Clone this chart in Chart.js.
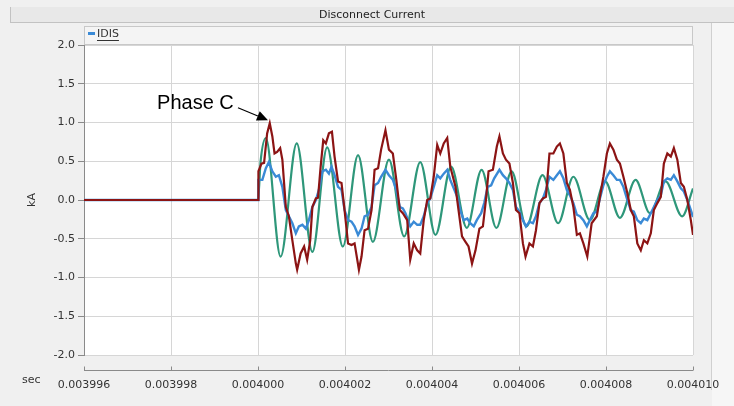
<!DOCTYPE html>
<html><head><meta charset="utf-8">
<script src="https://cdn.jsdelivr.net/npm/chart.js@4/dist/chart.umd.min.js"></script>
<style>html,body{margin:0;padding:0;background:#f0f0f0;overflow:hidden}</style>
</head><body>
<canvas id="c" width="734" height="406"></canvas>
<script>
const chartTitle = 'Disconnect Current';
const legendLabel = 'IDIS';
const xAxisLabel = 'sec';
const yAxisLabel = 'kA';
const annotationText = 'Phase C';
// time axis in microseconds (tick labels shown in seconds)
const xMin = 3996, xMax = 4010, xStep = 2;
const yMin = -2, yMax = 2, yStep = 0.5;

// Phase C (dark red)
const redTime = [3996, 4000, 4000.01, 4000.08, 4000.14, 4000.21, 4000.27, 4000.33, 4000.38, 4000.44,
  4000.51, 4000.56, 4000.64, 4000.71, 4000.79, 4000.87, 4000.90, 4000.98, 4001.06, 4001.13,
  4001.20, 4001.25, 4001.33, 4001.38, 4001.44, 4001.50, 4001.56, 4001.63, 4001.70, 4001.76,
  4001.84, 4001.92, 4001.99, 4002.07, 4002.15, 4002.22, 4002.32, 4002.38, 4002.45, 4002.53,
  4002.61, 4002.68, 4002.76, 4002.83, 4002.93, 4003.01, 4003.10, 4003.18, 4003.26, 4003.33,
  4003.43, 4003.50, 4003.58, 4003.66, 4003.73, 4003.81, 4003.89, 4003.96, 4004.04, 4004.12,
  4004.19, 4004.27, 4004.35, 4004.42, 4004.54, 4004.61, 4004.69, 4004.77, 4004.84, 4004.92,
  4005.00, 4005.09, 4005.17, 4005.24, 4005.30, 4005.40, 4005.49, 4005.55, 4005.63, 4005.70,
  4005.78, 4005.86, 4005.93, 4006.01, 4006.09, 4006.15, 4006.24, 4006.32, 4006.39, 4006.47,
  4006.55, 4006.62, 4006.70, 4006.79, 4006.87, 4006.94, 4007.02, 4007.10, 4007.17, 4007.25,
  4007.33, 4007.40, 4007.48, 4007.57, 4007.67, 4007.79, 4007.86, 4007.94, 4008.02, 4008.09,
  4008.17, 4008.25, 4008.32, 4008.40, 4008.49, 4008.57, 4008.64, 4008.72, 4008.80, 4008.87,
  4008.95, 4009.03, 4009.10, 4009.18, 4009.26, 4009.33, 4009.41, 4009.49, 4009.56, 4009.64,
  4009.72, 4009.79, 4009.87, 4009.95, 4010.00];
const redValue = [0, 0, 0.37, 0.47, 0.48, 0.86, 0.99, 0.82, 0.60, 0.62,
  0.67, 0.52, -0.09, -0.21, -0.52, -0.82, -0.90, -0.69, -0.60, -0.77,
  -0.52, -0.09, 0.02, 0.03, 0.43, 0.77, 0.73, 0.86, 0.88, 0.56,
  0.24, 0.22, -0.13, -0.56, -0.58, -0.56, -0.90, -0.73, -0.39, -0.37,
  -0.13, 0.39, 0.41, 0.65, 0.90, 0.65, 0.60, 0.26, -0.13, -0.17,
  -0.26, -0.77, -0.56, -0.65, -0.69, -0.26, 0.00, 0.02, 0.30, 0.71,
  0.60, 0.73, 0.80, 0.43, 0.17, -0.13, -0.47, -0.54, -0.60, -0.82,
  -0.65, -0.37, -0.34, 0.00, 0.37, 0.39, 0.69, 0.82, 0.60, 0.52,
  0.47, 0.22, -0.13, -0.17, -0.56, -0.73, -0.56, -0.60, -0.39, -0.04,
  0.02, 0.04, 0.60, 0.60, 0.69, 0.73, 0.60, 0.22, 0.13, -0.09,
  -0.45, -0.43, -0.56, -0.73, -0.30, -0.21, 0.04, 0.30, 0.60, 0.73,
  0.65, 0.52, 0.47, 0.30, 0.09, -0.13, -0.21, -0.56, -0.65, -0.52,
  -0.56, -0.43, -0.13, -0.04, 0.04, 0.47, 0.60, 0.56, 0.67, 0.52,
  0.22, 0.17, 0.00, -0.26, -0.45];

// IDIS (blue)
const idisTime = [3996, 4000, 4000.01, 4000.10, 4000.18, 4000.25, 4000.33, 4000.41, 4000.48, 4000.56,
  4000.64, 4000.71, 4000.79, 4000.87, 4000.94, 4001.02, 4001.10, 4001.17, 4001.25, 4001.33,
  4001.40, 4001.48, 4001.56, 4001.63, 4001.69, 4001.76, 4001.84, 4001.92, 4001.99, 4002.07,
  4002.15, 4002.22, 4002.30, 4002.38, 4002.45, 4002.53, 4002.61, 4002.68, 4002.76, 4002.83,
  4002.93, 4003.01, 4003.10, 4003.18, 4003.26, 4003.33, 4003.39, 4003.50, 4003.58, 4003.66,
  4003.73, 4003.81, 4003.89, 4003.96, 4004.04, 4004.12, 4004.19, 4004.27, 4004.35, 4004.42,
  4004.50, 4004.58, 4004.65, 4004.73, 4004.81, 4004.88, 4004.96, 4005.03, 4005.13, 4005.20,
  4005.28, 4005.36, 4005.43, 4005.55, 4005.63, 4005.70, 4005.78, 4005.86, 4005.93, 4006.01,
  4006.09, 4006.16, 4006.24, 4006.32, 4006.39, 4006.47, 4006.55, 4006.62, 4006.70, 4006.79,
  4006.87, 4006.94, 4007.02, 4007.10, 4007.17, 4007.25, 4007.33, 4007.40, 4007.48, 4007.56,
  4007.63, 4007.71, 4007.79, 4007.86, 4007.94, 4008.02, 4008.09, 4008.17, 4008.25, 4008.32,
  4008.40, 4008.49, 4008.57, 4008.64, 4008.72, 4008.80, 4008.87, 4008.95, 4009.03, 4009.10,
  4009.18, 4009.26, 4009.33, 4009.41, 4009.49, 4009.56, 4009.64, 4009.72, 4009.79, 4009.87,
  4009.95, 4010.00];
const idisValue = [0, 0, 0.26, 0.26, 0.41, 0.49, 0.37, 0.30, 0.32, 0.17,
  -0.13, -0.21, -0.30, -0.43, -0.34, -0.32, -0.37, -0.26, -0.09, 0.00,
  0.13, 0.37, 0.39, 0.34, 0.43, 0.32, 0.17, 0.13, -0.13, -0.26,
  -0.28, -0.34, -0.45, -0.37, -0.21, -0.19, -0.09, 0.19, 0.22, 0.30,
  0.39, 0.32, 0.26, 0.13, -0.09, -0.11, -0.17, -0.34, -0.28, -0.32,
  -0.32, -0.21, -0.04, 0.02, 0.17, 0.32, 0.28, 0.34, 0.39, 0.26,
  0.15, 0.04, -0.13, -0.26, -0.24, -0.30, -0.34, -0.26, -0.17, -0.04,
  0.17, 0.19, 0.28, 0.39, 0.32, 0.28, 0.22, 0.13, -0.09, -0.15,
  -0.26, -0.34, -0.28, -0.30, -0.21, -0.04, 0.02, 0.13, 0.30, 0.26,
  0.32, 0.37, 0.28, 0.13, 0.06, -0.04, -0.19, -0.21, -0.26, -0.34,
  -0.26, -0.17, -0.15, 0.02, 0.19, 0.30, 0.37, 0.32, 0.26, 0.26,
  0.17, 0.00, -0.13, -0.15, -0.26, -0.30, -0.24, -0.26, -0.17, -0.09,
  0.00, 0.06, 0.24, 0.28, 0.26, 0.32, 0.24, 0.15, 0.11, 0.00,
  -0.13, -0.22];

// green phase (peaks and troughs)
const greenTime = [3996, 4000, 4000.06, 4000.18, 4000.52, 4000.89, 4001.25, 4001.59, 4001.95, 4002.30,
  4002.64, 4003.01, 4003.36, 4003.73, 4004.08, 4004.44, 4004.80, 4005.14, 4005.48, 4005.83,
  4006.17, 4006.54, 4006.90, 4007.25, 4007.63, 4007.98, 4008.32, 4008.68, 4009.01, 4009.37,
  4009.75, 4010.00];
const greenValue = [0, 0, 0.50, 0.80, -0.73, 0.73, -0.67, 0.68, -0.60, 0.58,
  -0.54, 0.52, -0.47, 0.49, -0.45, 0.43, -0.36, 0.39, -0.36, 0.37,
  -0.34, 0.32, -0.30, 0.30, -0.26, 0.24, -0.23, 0.26, -0.17, 0.24,
  -0.21, 0.15];

// annotation anchor (data coordinates)
const annotationTextPos = {x: 3997.68, y: 1.17};
const arrowFrom = {x: 3999.54, y: 1.19};
const arrowTo = {x: 4000.23, y: 1.03};

const pts = (t, v) => t.map((x, i) => ({x, y: v[i]}));

const decor = {
  id: 'decor',
  beforeDraw(chart) {
    const {ctx, chartArea: a, width, height} = chart;
    ctx.save();
    ctx.fillStyle = '#f0f0f0'; ctx.fillRect(0, 0, width, height);
    // right side panel
    ctx.fillStyle = '#f6f6f6'; ctx.fillRect(712, 23, width - 712, height - 23);
    ctx.strokeStyle = '#d0d0d0'; ctx.lineWidth = 1;
    ctx.beginPath(); ctx.moveTo(711.5, 23); ctx.lineTo(711.5, 390); ctx.stroke();
    // title band
    ctx.fillStyle = '#e8e8e8'; ctx.fillRect(10, 7, width - 10, 15);
    ctx.strokeStyle = '#c2c2c2';
    ctx.beginPath(); ctx.moveTo(10, 22.5); ctx.lineTo(width, 22.5); ctx.stroke();
    ctx.beginPath(); ctx.moveTo(10.5, 7); ctx.lineTo(10.5, 22.5); ctx.stroke();
    ctx.fillStyle = '#222'; ctx.font = '11px "DejaVu Sans"';
    ctx.textAlign = 'center'; ctx.textBaseline = 'middle';
    ctx.fillText(chartTitle, (10 + width) / 2, 15);
    // legend strip
    ctx.fillStyle = '#f4f4f4'; ctx.fillRect(a.left, 26, a.right - a.left, 19);
    ctx.strokeStyle = '#c8c8c8'; ctx.strokeRect(a.left + 0.5, 26.5, a.right - a.left - 1, 18);
    ctx.fillStyle = '#3a8ad6'; ctx.fillRect(a.left + 4, 32, 7, 3);
    ctx.fillStyle = '#333'; ctx.textAlign = 'left';
    ctx.fillText(legendLabel, a.left + 13, 34);
    const w = ctx.measureText(legendLabel).width;
    ctx.strokeStyle = '#333';
    ctx.beginPath(); ctx.moveTo(a.left + 13, 40.5); ctx.lineTo(a.left + 13 + w, 40.5); ctx.stroke();
    // plot area
    ctx.fillStyle = '#ffffff'; ctx.fillRect(a.left, a.top, a.right - a.left, a.bottom - a.top);
    ctx.restore();
  },
  afterDraw(chart) {
    const {ctx, chartArea: a, scales: {x, y}} = chart;
    ctx.save();
    // separate x axis line with tick marks
    const ly = 370.5;
    ctx.strokeStyle = '#8a8a8a'; ctx.lineWidth = 1;
    ctx.beginPath(); ctx.moveTo(a.left, ly); ctx.lineTo(a.right, ly); ctx.stroke();
    x.ticks.forEach(t => {
      const px = Math.round(x.getPixelForValue(t.value)) + 0.5;
      ctx.beginPath(); ctx.moveTo(px, ly); ctx.lineTo(px, ly - 4); ctx.stroke();
    });
    ctx.fillStyle = '#333'; ctx.font = '11px "DejaVu Sans"';
    ctx.textAlign = 'left'; ctx.textBaseline = 'middle';
    ctx.fillText(xAxisLabel, 22, 380);
    // annotation
    ctx.fillStyle = '#000'; ctx.font = '20px "Liberation Sans"';
    ctx.textBaseline = 'alphabetic';
    ctx.fillText(annotationText, x.getPixelForValue(annotationTextPos.x), y.getPixelForValue(annotationTextPos.y));
    const x0 = x.getPixelForValue(arrowFrom.x), y0 = y.getPixelForValue(arrowFrom.y);
    const x1 = x.getPixelForValue(arrowTo.x), y1 = y.getPixelForValue(arrowTo.y);
    const ang = Math.atan2(y1 - y0, x1 - x0);
    const hl = 11, hw = 5;
    const bx = x1 - hl * Math.cos(ang), by = y1 - hl * Math.sin(ang);
    ctx.strokeStyle = '#000'; ctx.lineWidth = 1.2;
    ctx.beginPath(); ctx.moveTo(x0, y0); ctx.lineTo(bx, by); ctx.stroke();
    ctx.beginPath();
    ctx.moveTo(x1, y1);
    ctx.lineTo(bx + hw * Math.sin(ang), by - hw * Math.cos(ang));
    ctx.lineTo(bx - hw * Math.sin(ang), by + hw * Math.cos(ang));
    ctx.closePath(); ctx.fill();
    ctx.restore();
  }
};

new Chart(document.getElementById('c'), {
  type: 'line',
  data: {
    datasets: [
      {label: 'Phase C', data: pts(redTime, redValue), borderColor: '#8c1414', borderWidth: 2.2,
       pointRadius: 0, tension: 0, fill: false},
      {label: legendLabel, data: pts(idisTime, idisValue), borderColor: '#3a8ad6', borderWidth: 2.4,
       pointRadius: 0, tension: 0, fill: false},
      {label: 'Phase', data: pts(greenTime, greenValue), borderColor: '#2e977a', borderWidth: 2.2,
       pointRadius: 0, cubicInterpolationMode: 'monotone', fill: false}
    ]
  },
  options: {
    responsive: false, animation: false, devicePixelRatio: 1,
    layout: {padding: {top: 45, right: 41, bottom: 0, left: 0}},
    plugins: {legend: {display: false}, title: {display: false}, tooltip: {enabled: false}},
    scales: {
      x: {
        type: 'linear', min: xMin, max: xMax,
        afterFit: s => { s.height = 51; s.paddingRight = 0; s.paddingLeft = 0; },
        grid: {color: '#d6d6d6', drawTicks: false, lineWidth: 1},
        border: {display: false},
        ticks: {stepSize: xStep, autoSkip: false, maxRotation: 0, padding: 24,
          color: '#333', font: {family: 'DejaVu Sans', size: 11},
          callback: v => (v / 1e6).toFixed(6)}
      },
      y: {
        type: 'linear', min: yMin, max: yMax,
        afterFit: s => { s.width = 84; s.paddingTop = 0; s.paddingBottom = 0; },
        grid: {color: '#d6d6d6', tickColor: '#8a8a8a', tickLength: 6},
        border: {display: true, color: '#8a8a8a'},
        ticks: {stepSize: yStep, padding: 3, color: '#333',
          font: {family: 'DejaVu Sans', size: 11}, callback: v => v.toFixed(1)},
        title: {display: true, text: yAxisLabel, color: '#333',
          font: {family: 'DejaVu Sans', size: 11}, padding: {top: 26, bottom: 0}}
      }
    }
  },
  plugins: [decor]
});
</script>
</body></html>
